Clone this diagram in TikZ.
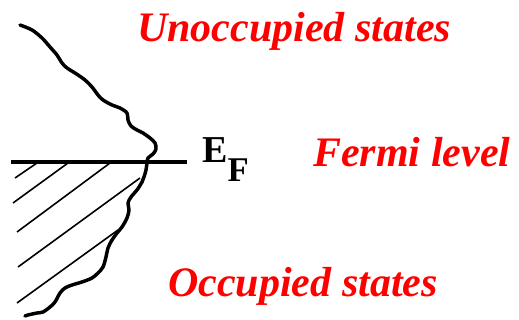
\documentclass[tikz,border=0pt]{standalone}
\usepackage{fontspec}
\setmainfont{Liberation Serif}
\usepackage{tikz}
\usetikzlibrary{positioning}
\definecolor{labred}{RGB}{255,0,0}
\tikzset{
  doscurve/.style  = {line width=2.6pt, line cap=round, line join=round},
  efline/.style    = {line width=2.5pt},
  hatchln/.style   = {line width=1.2pt},
  statelab/.style  = {anchor=base west, inner sep=0pt, text=labred,
                      font=\fontsize{31.5}{36}\selectfont\bfseries\itshape},
  eflab/.style     = {anchor=base west, inner sep=0pt,
                      font=\fontsize{28.5}{32}\selectfont\bfseries},
}

\begin{document}
\begin{tikzpicture}[x=0.75pt, y=-0.75pt]
  \useasboundingbox (0,0) rectangle (519,320);
  % density of states
  \draw[doscurve] plot[smooth, tension=0.55] coordinates {
    (20,25) (32,30) (42,38) (50,47) (57,55) (62,63) (67,68) (75,73)
    (85,80) (92,87) (98,95) (103,100) (112,105) (120,108) (127,113)
    (128,120) (131,126) (137,130) (143,133) (150,138) (155,143)
    (156,149) (153,154) (148,158) (147,163) (146,170) (144,177)
    (142,182) (137,190) (131,197) (128,203) (129,210) (127,218)
    (122,227) (117,233) (112,240) (108,248) (106,257) (103,267)
    (98,273) (92,278) (82,282) (72,285) (65,288) (60,293) (55,302)
    (50,307) (43,312) (37,313) (28,315) (25,316)};
  % Fermi level
  \draw[efline] (11,162) -- (187,162);
  % filled states
  \draw[hatchln] (15,178) -- (37,163);
  \draw[hatchln] (13,203) -- (68,163);
  \draw[hatchln] (17,232) -- (110,163);
  \draw[hatchln] (18,267) -- (140,178);
  \draw[hatchln] (17,303) -- (118,230);

  \node[eflab] (ef) at (202,163)
    {E\raisebox{-14pt}{\fontsize{26}{30}\selectfont F}};
  \node[statelab] (unocc) at (137,42) {Unoccupied states};
  \node[statelab] (fermi) at (313,167) {Fermi level};
  \node[statelab] (occ) at (168,297) {Occupied states};
\end{tikzpicture}
\end{document}
